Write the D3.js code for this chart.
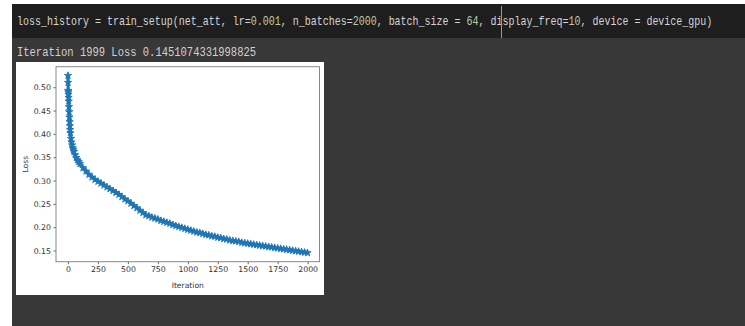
<!DOCTYPE html>
<html>
<head>
<meta charset="utf-8">
<script src="https://cdn.jsdelivr.net/npm/d3@7"></script>
<style>
html,body{margin:0;padding:0;background:#fff;}
svg{display:block;}
</style>
</head>
<body>
<svg id="c" width="745" height="326"></svg>
<script>
// ---- data ----
const iterations = [0,1,2,3,4,5,6,8,10,12,14,16,18,20,25,30,35,40,45,50,60,70,80,90,100,
  125,150,175,200,225,250,275,300,325,350,375,400,425,450,475,500,525,550,575,600,625,650,
  675,700,725,750,775,800,825,850,875,900,925,950,975,1000,1025,1050,1075,1100,1125,1150,
  1175,1200,1225,1250,1275,1300,1325,1350,1375,1400,1425,1450,1475,1500,1525,1550,1575,
  1600,1625,1650,1675,1700,1725,1750,1775,1800,1825,1850,1875,1900,1925,1950,1975,1999];
const lossValues = [0.525,0.510,0.493,0.490,0.485,0.478,0.470,0.458,0.447,0.436,0.426,0.417,0.409,0.402,
  0.390,0.382,0.376,0.370,0.366,0.362,0.355,0.349,0.344,0.340,0.336,
  0.327,0.320,0.313,0.307,0.302,0.298,0.294,0.290,0.286,0.282,0.278,0.274,0.270,0.265,0.260,
  0.256,0.251,0.246,0.241,0.236,0.231,0.226,0.224,0.221,0.219,0.217,0.214,0.212,0.210,0.208,
  0.205,0.203,0.201,0.199,0.197,0.195,0.193,0.191,0.189,0.188,0.186,0.184,0.183,0.181,0.180,
  0.178,0.177,0.175,0.174,0.172,0.171,0.170,0.169,0.167,0.166,0.165,0.164,0.163,0.162,0.161,
  0.160,0.159,0.158,0.157,0.156,0.155,0.154,0.153,0.152,0.151,0.150,0.149,0.148,0.147,0.146,0.145];
const xTicks = [0,250,500,750,1000,1250,1500,1750,2000];
const yTicks = [0.15,0.20,0.25,0.30,0.35,0.40,0.45,0.50];
const xLabel = "Iteration";
const yLabel = "Loss";
const codeParts = [
  ["loss_history = train_setup(net_att, lr=", "#d4d4d4"],
  ["0.001", "#b5cea8"],
  [", n_batches=", "#d4d4d4"],
  ["2000", "#b5cea8"],
  [", batch_size = ", "#d4d4d4"],
  ["64", "#b5cea8"],
  [", display_freq=", "#d4d4d4"],
  ["10", "#b5cea8"],
  [", device = device_gpu)", "#d4d4d4"]
];
const outputText = "Iteration 1999 Loss 0.1451074331998825";

// ---- drawing ----
(function(){
const svg = d3.select("#c");
svg.append("rect").attr("x",0).attr("y",0).attr("width",745).attr("height",326).attr("fill","#ffffff");
svg.append("rect").attr("x",12).attr("y",4).attr("width",733).attr("height",322).attr("fill","#383838");
svg.append("rect").attr("x",12).attr("y",4).attr("width",733).attr("height",34).attr("fill","#1e1e1e");

const mono = "'Liberation Mono', 'DejaVu Sans Mono', monospace";
const code = svg.append("text").attr("transform","translate(17,25) scale(1,1.2)")
  .attr("font-family",mono).attr("font-size",10);
codeParts.forEach(p => code.append("tspan").attr("fill",p[1]).text(p[0]));
svg.append("line").attr("x1",501.5).attr("x2",501.5).attr("y1",6).attr("y2",38)
  .attr("stroke","#9a9a9a").attr("stroke-width",1);

svg.append("text").attr("transform","translate(17,56) scale(1,1.2)").attr("fill","#d0d0d0")
  .attr("font-family",mono).attr("font-size",10.5)
  .text(outputText);

// white figure
svg.append("rect").attr("x",16).attr("y",62).attr("width",308).attr("height",233).attr("fill","#ffffff");

const pl = 56, pr = 319.5, pt = 66.7, pb = 261.7;
const xmin = d3.min(iterations), xmax = d3.max(iterations);
const ymin = d3.min(lossValues), ymax = d3.max(lossValues);
const xm = (xmax - xmin) * 0.05, ym = (ymax - ymin) * 0.05;
const x = d3.scaleLinear().domain([xmin - xm, xmax + xm]).range([pl, pr]);
const y = d3.scaleLinear().domain([ymin - ym, ymax + ym]).range([pb, pt]);

const pts = iterations.map((d,i) => [d, lossValues[i]]);
const g = svg.append("g");
g.append("path").datum(pts)
  .attr("d", d3.line().x(d => x(d[0])).y(d => y(d[1])))
  .attr("fill","none").attr("stroke","#1f77b4").attr("stroke-width",3.2).attr("stroke-linejoin","round");
const star = d3.symbol().type(d3.symbolStar).size(16);
g.selectAll("path.m").data(pts).join("path").attr("class","m")
  .attr("transform", d => `translate(${x(d[0])},${y(d[1])})`)
  .attr("d", star).attr("fill","#1f77b4").attr("stroke","#1f77b4").attr("stroke-width",0.9);

const font = "'DejaVu Sans', sans-serif";
const xAxis = svg.append("g").attr("transform",`translate(0,${pb})`)
  .call(d3.axisBottom(x).tickValues(xTicks).tickFormat(d3.format("d")).tickSize(2.5).tickPadding(2.5));
const yAxis = svg.append("g").attr("transform",`translate(${pl},0)`)
  .call(d3.axisLeft(y).tickValues(yTicks).tickFormat(d3.format(".2f")).tickSize(2.5).tickPadding(2.5));
[xAxis,yAxis].forEach(a => {
  a.select(".domain").remove();
  a.selectAll("line").attr("stroke","#555").attr("stroke-width",0.9);
  a.selectAll("text").attr("fill","#333").attr("font-family",font).attr("font-size",7.8);
});
svg.append("rect").attr("x",pl).attr("y",pt).attr("width",pr-pl).attr("height",pb-pt)
  .attr("fill","none").attr("stroke","#888").attr("stroke-width",1);

svg.append("text").attr("x",(pl+pr)/2).attr("y",288).attr("text-anchor","middle")
  .attr("fill","#333").attr("font-family",font).attr("font-size",7.6).text(xLabel);
svg.append("text").attr("transform",`translate(28,${(pt+pb)/2}) rotate(-90)`).attr("text-anchor","middle")
  .attr("fill","#333").attr("font-family",font).attr("font-size",7.6).text(yLabel);
})();
</script>
</body>
</html>
